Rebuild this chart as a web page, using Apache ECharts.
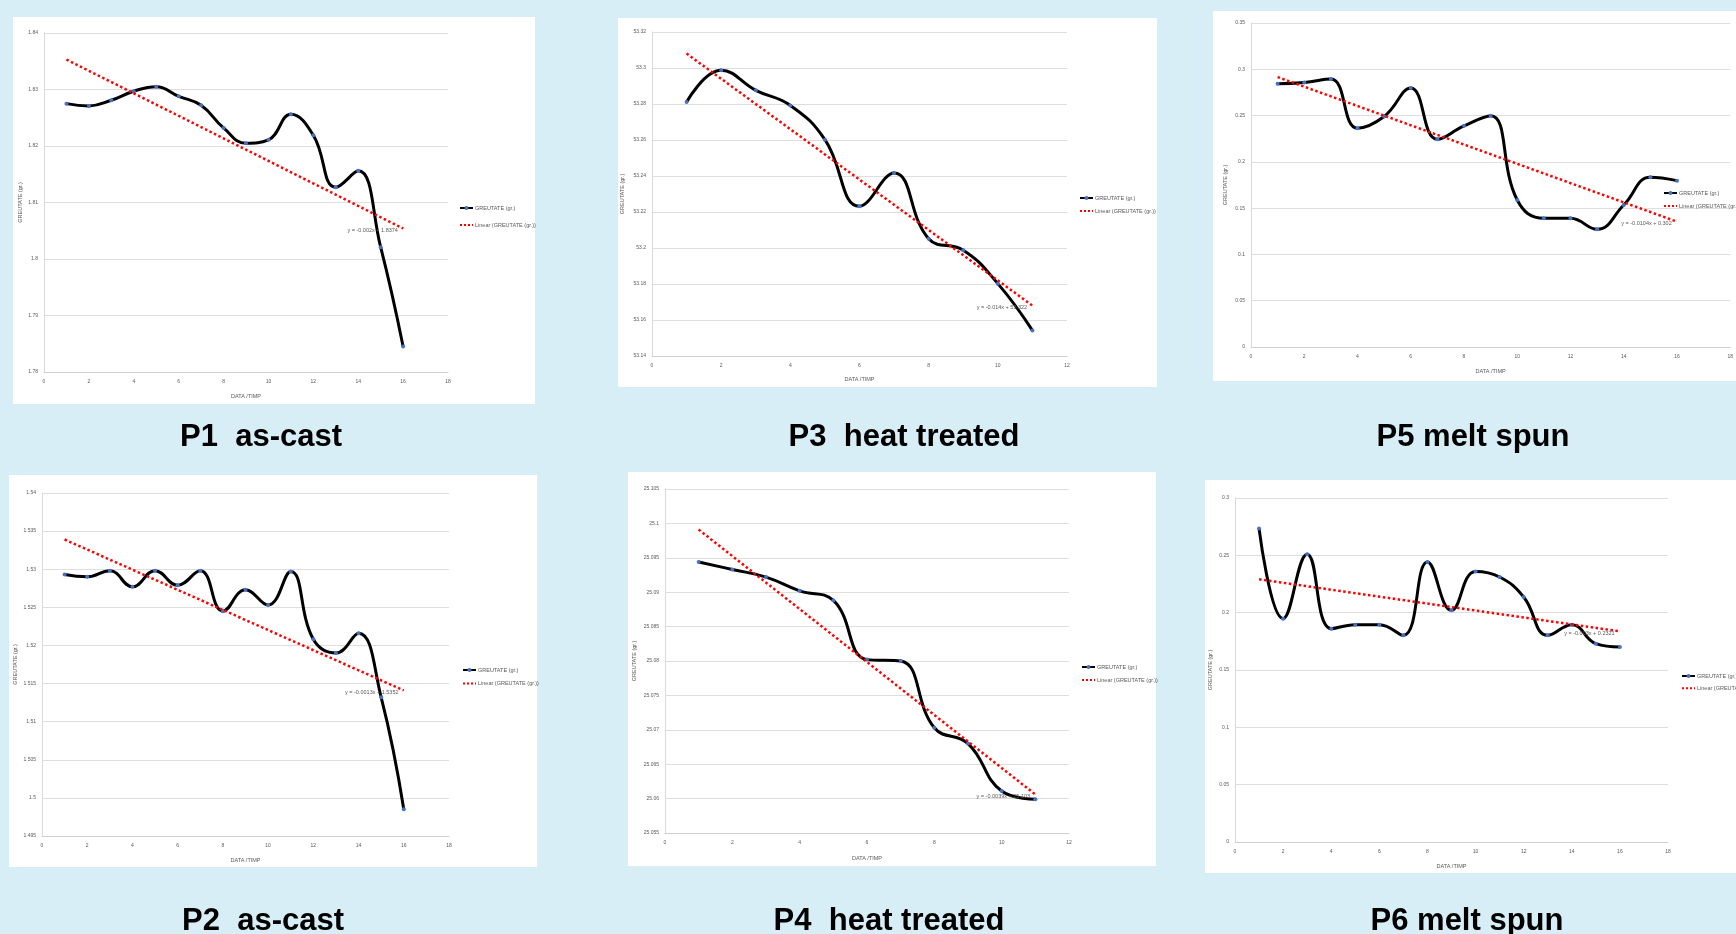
<!DOCTYPE html>
<html>
<head>
<meta charset="utf-8">
<script src="https://cdn.jsdelivr.net/npm/echarts@6/dist/echarts.min.js"></script>
<style>
html,body{margin:0;padding:0;background:#d8eef6;}
#c{width:1736px;height:934px;}
</style>
</head>
<body>
<div id="c"></div>
<script>
// ---------- DATA ----------
const seriesName = 'GREUTATE (gr.)';
const trendName = 'Linear (GREUTATE (gr.))';
const yAxisTitle = 'GREUTATE (gr.)';
const xAxisTitle = 'DATA /TIMP';

const p1Title = 'P1  as-cast';
const p1X = [1,2,3,4,5,6,7,8,9,10,11,12,13,14,15,16];
const p1Y = [1.8275,1.8271,1.8281,1.8297,1.8305,1.8288,1.8272,1.8232,1.8205,1.8211,1.8256,1.8219,1.8127,1.8156,1.8021,1.7845];
const p1Trend = [1.8353, 1.8054];
const p1Eq = 'y = -0.002x + 1.8374';

const p3Title = 'P3  heat treated';
const p3X = [1,2,3,4,5,6,7,8,9,10,11];
const p3Y = [53.2811,53.2987,53.2876,53.2792,53.2602,53.2232,53.2416,53.2052,53.1988,53.1802,53.1542];
const p3Trend = [53.308, 53.168];
const p3Eq = 'y = -0.014x + 53.322';

const p5Title = 'P5 melt spun';
const p5X = [1,2,3,4,5,6,7,8,9,10,11,12,13,14,15,16];
const p5Y = [0.2843,0.2858,0.2894,0.2364,0.2490,0.2797,0.2245,0.2389,0.2497,0.1588,0.1390,0.1390,0.1271,0.1534,0.1833,0.1797];
const p5Trend = [0.2916, 0.1354];
const p5Eq = 'y = -0.0104x + 0.302';

const p2Title = 'P2  as-cast';
const p2X = [1,2,3,4,5,6,7,8,9,10,11,12,13,14,15,16];
const p2Y = [1.5293,1.5290,1.5298,1.5277,1.5298,1.5279,1.5298,1.5245,1.5273,1.5253,1.5297,1.5208,1.5190,1.5216,1.5132,1.4985];
const p2Trend = [1.5339, 1.5141];
const p2Eq = 'y = -0.0013x + 1.5352';

const p4Title = 'P4  heat treated';
const p4X = [1,2,3,4,5,6,7,8,9,10,11];
const p4Y = [25.0944,25.0933,25.0922,25.0902,25.0888,25.0802,25.0800,25.0703,25.0680,25.0611,25.0599];
const p4Trend = [25.0991, 25.0606];
const p4Eq = 'y = -0.0039x + 25.103';

const p6Title = 'P6 melt spun';
const p6X = [1,2,3,4,5,6,7,8,9,10,11,12,13,14,15,16];
const p6Y = [0.2733,0.1948,0.2509,0.1860,0.1895,0.1895,0.1802,0.2442,0.2020,0.2360,0.2311,0.2137,0.1802,0.1895,0.1730,0.1701];
const p6Trend = [0.2291, 0.1837];
const p6Eq = 'y = -0.003x + 0.2321';

// axis ranges (tick labels)
const p1YAxis = {min:1.78, max:1.84, interval:0.01};
const p3YAxis = {min:53.14, max:53.32, interval:0.02};
const p5YAxis = {min:0, max:0.35, interval:0.05};
const p2YAxis = {min:1.495, max:1.54, interval:0.005};
const p4YAxis = {min:25.055, max:25.105, interval:0.005};
const p6YAxis = {min:0, max:0.3, interval:0.05};
const xAxis18 = {min:0, max:18, interval:2};
const xAxis12 = {min:0, max:12, interval:2};

// ---------- LAYOUT ----------
const panels = [
  {title:p1Title, x:p1X, y:p1Y, trend:p1Trend, eq:p1Eq, ya:p1YAxis, xa:xAxis18,
   panel:[13,17,522,387], grid:{left:44,top:33,width:404,height:339}, titlePos:[261,437],
   legend:{left:459,top:205,gap:11}, yGap:21, xGap:21},
  {title:p3Title, x:p3X, y:p3Y, trend:p3Trend, eq:p3Eq, ya:p3YAxis, xa:xAxis12,
   panel:[618,18,539,369], grid:{left:652,top:32,width:415,height:324}, titlePos:[904,437],
   legend:{left:1079,top:195,gap:7}, yGap:27, xGap:20},
  {title:p5Title, x:p5X, y:p5Y, trend:p5Trend, eq:p5Eq, ya:p5YAxis, xa:xAxis18,
   panel:[1213,11,530,370], grid:{left:1251,top:23,width:494,height:324}, titlePos:[1473,437],
   legend:{left:1663,top:190,gap:7}, yGap:23, xGap:21},
  {title:p2Title, x:p2X, y:p2Y, trend:p2Trend, eq:p2Eq, ya:p2YAxis, xa:xAxis18,
   panel:[9,475,528,392], grid:{left:42,top:493,width:407,height:343}, titlePos:[263,921],
   legend:{left:462,top:667,gap:7.6}, yGap:24, xGap:21},
  {title:p4Title, x:p4X, y:p4Y, trend:p4Trend, eq:p4Eq, ya:p4YAxis, xa:xAxis12,
   panel:[628,472,528,394], grid:{left:665,top:489,width:404,height:344}, titlePos:[889,921],
   legend:{left:1081,top:664,gap:7}, yGap:28, xGap:22},
  {title:p6Title, x:p6X, y:p6Y, trend:p6Trend, eq:p6Eq, ya:p6YAxis, xa:xAxis18,
   panel:[1205,480,540,393], grid:{left:1235,top:498,width:433,height:344}, titlePos:[1467,921],
   legend:{left:1681,top:673,gap:6.3}, yGap:21.5, xGap:21}
];

const grey = '#595959';
const font = 'Liberation Sans';
const option = {
  animation:false,
  backgroundColor:'#d8eef6',
  grid:[], xAxis:[], yAxis:[], series:[], legend:[], graphic:[]
};

panels.forEach((p, i) => {
  option.graphic.push({type:'rect', z:-10, shape:{x:p.panel[0], y:p.panel[1], width:p.panel[2], height:p.panel[3]}, style:{fill:'#ffffff'}});
  option.graphic.push({type:'text', x:p.titlePos[0], y:p.titlePos[1], style:{text:p.title, fontSize:31, fontWeight:'bold', fontFamily:font, fill:'#000', textAlign:'center', textVerticalAlign:'middle'}});
  option.grid.push(Object.assign({containLabel:false}, p.grid));
  option.xAxis.push({
    type:'value', gridIndex:i, min:p.xa.min, max:p.xa.max, interval:p.xa.interval,
    name:xAxisTitle, nameLocation:'middle', nameGap:p.xGap,
    nameTextStyle:{fontSize:5.5, color:grey, fontFamily:font},
    axisLine:{show:true, lineStyle:{color:'#d0d0d0', width:1}},
    axisTick:{show:false}, splitLine:{show:false},
    axisLabel:{fontSize:5, color:grey, margin:7, fontFamily:font}
  });
  option.yAxis.push({
    type:'value', gridIndex:i, min:p.ya.min, max:p.ya.max, interval:p.ya.interval,
    name:yAxisTitle, nameLocation:'middle', nameGap:p.yGap, nameRotate:90,
    nameTextStyle:{fontSize:5.5, color:grey, fontFamily:font},
    axisLine:{show:true, lineStyle:{color:'#d9d9d9', width:1}},
    axisTick:{show:false},
    splitLine:{show:true, lineStyle:{color:'#dedede', width:1}},
    axisLabel:{fontSize:5, color:grey, margin:6, fontFamily:font}
  });
  option.series.push({
    name:seriesName, type:'line', xAxisIndex:i, yAxisIndex:i,
    data:p.x.map((xv, k) => [xv, p.y[k]]),
    smooth:0.45, symbol:'circle', symbolSize:4, showSymbol:true,
    lineStyle:{color:'#000', width:3}, itemStyle:{color:'#4472c4'}, z:3
  });
  const n = p.x.length - 1;
  option.series.push({
    name:trendName, type:'line', xAxisIndex:i, yAxisIndex:i,
    data:[
      {value:[p.x[0], p.trend[0]]},
      {value:[p.x[n], p.trend[1]], label:{show:true, formatter:p.eq, position:'left', distance:5, offset:[0,2], fontSize:5.5, color:grey, fontFamily:font}}
    ],
    symbol:'circle', symbolSize:0.5, showSymbol:true,
    lineStyle:{color:'#ff0000', width:2.5, type:'dotted'}, itemStyle:{color:'#ff0000'}, z:4
  });
  option.legend.push({
    orient:'vertical', left:p.legend.left, top:p.legend.top, itemGap:p.legend.gap,
    itemWidth:13, itemHeight:5, padding:0,
    data:[
      {name:seriesName},
      {name:trendName, itemStyle:{color:'rgba(0,0,0,0)', borderWidth:0}}
    ],
    textStyle:{fontSize:5.5, color:grey, fontFamily:font, padding:[0,0,0,-3]}
  });
});

const chart = echarts.init(document.getElementById('c'), null, {renderer:'canvas'});
chart.setOption(option);
</script>
</body>
</html>
